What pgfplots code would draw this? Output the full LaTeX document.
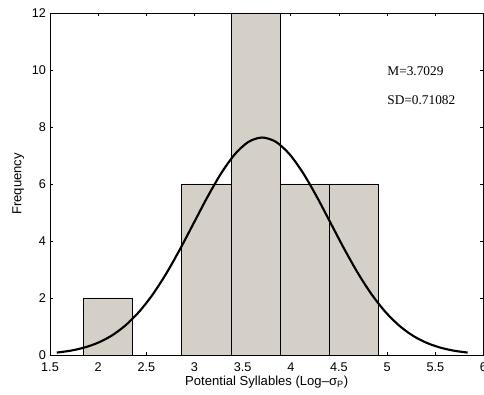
\documentclass[border=0pt]{standalone}
\usepackage{fontspec}
\setmainfont{Liberation Sans}
\newfontfamily\seriffont{Liberation Serif}
\usepackage{pgfplots}
\pgfplotsset{compat=1.18}
\definecolor{barfill}{RGB}{212,208,200}
\begin{document}
\begin{tikzpicture}
\begin{axis}[
  scale only axis,
  width=325.1pt, height=256.5pt,
  xmin=1.5, xmax=6, ymin=0, ymax=12,
  xtick={1.5,2,...,6}, ytick={0,2,...,12},
  xticklabels={1.5,2,2.5,3,3.5,4,4.5,5,5.5,6},
  tick align=inside,
  major tick length=2.5pt,
  tick style={black, line width=0.5pt},
  axis line style={line width=0.6pt},
  every tick label/.append style={font=\fontsize{9.5}{11}\selectfont},
  /pgf/number format/assume math mode=true,
  xlabel={Potential Syllables (Log–σ\textsubscript{P})},
  ylabel={Frequency},
  label style={font=\fontsize{9.8}{11}\selectfont},
  xlabel style={yshift=3pt},
  ylabel style={yshift=-1pt},
  xticklabel style={yshift=-2pt},
  yticklabel style={xshift=0.5pt},
]
\addplot[ybar, bar width=0.511, bar shift=0pt, fill=barfill, draw=black, line width=0.5pt] coordinates {
  (2.1015,2) (3.1235,6) (3.6345,12) (4.1455,6) (4.6565,6)
};
\addplot[black, line width=1.6pt, smooth] coordinates {
  (1.5704,0.085) (1.7126,0.151) (1.8548,0.260) (1.9969,0.428) (2.1391,0.678)
  (2.2813,1.033) (2.4234,1.510) (2.5656,2.121) (2.7078,2.864) (2.8499,3.714)
  (2.9921,4.628) (3.1342,5.541) (3.2764,6.373) (3.4186,7.043) (3.5607,7.479)
  (3.7029,7.630) (3.8451,7.479) (3.9872,7.043) (4.1294,6.373) (4.2716,5.541)
  (4.4137,4.628) (4.5559,3.714) (4.6981,2.864) (4.8402,2.121) (4.9824,1.510)
  (5.1245,1.033) (5.2667,0.678) (5.4089,0.428) (5.5510,0.260) (5.6932,0.151)
  (5.8354,0.085)
};
\node[anchor=west, font=\seriffont\fontsize{10}{11}\selectfont, inner sep=0pt] at (axis cs:5.0,9.96) {M=3.7029};
\node[anchor=west, font=\seriffont\fontsize{10}{11}\selectfont, inner sep=0pt] at (axis cs:5.0,8.95) {SD=0.71082};
\end{axis}
\pgfresetboundingbox
\useasboundingbox ([shift={(-37.5pt,-30pt)}]current axis.south west) rectangle ([shift={(0.4pt,9.75pt)}]current axis.north east);
\end{tikzpicture}
\end{document}
